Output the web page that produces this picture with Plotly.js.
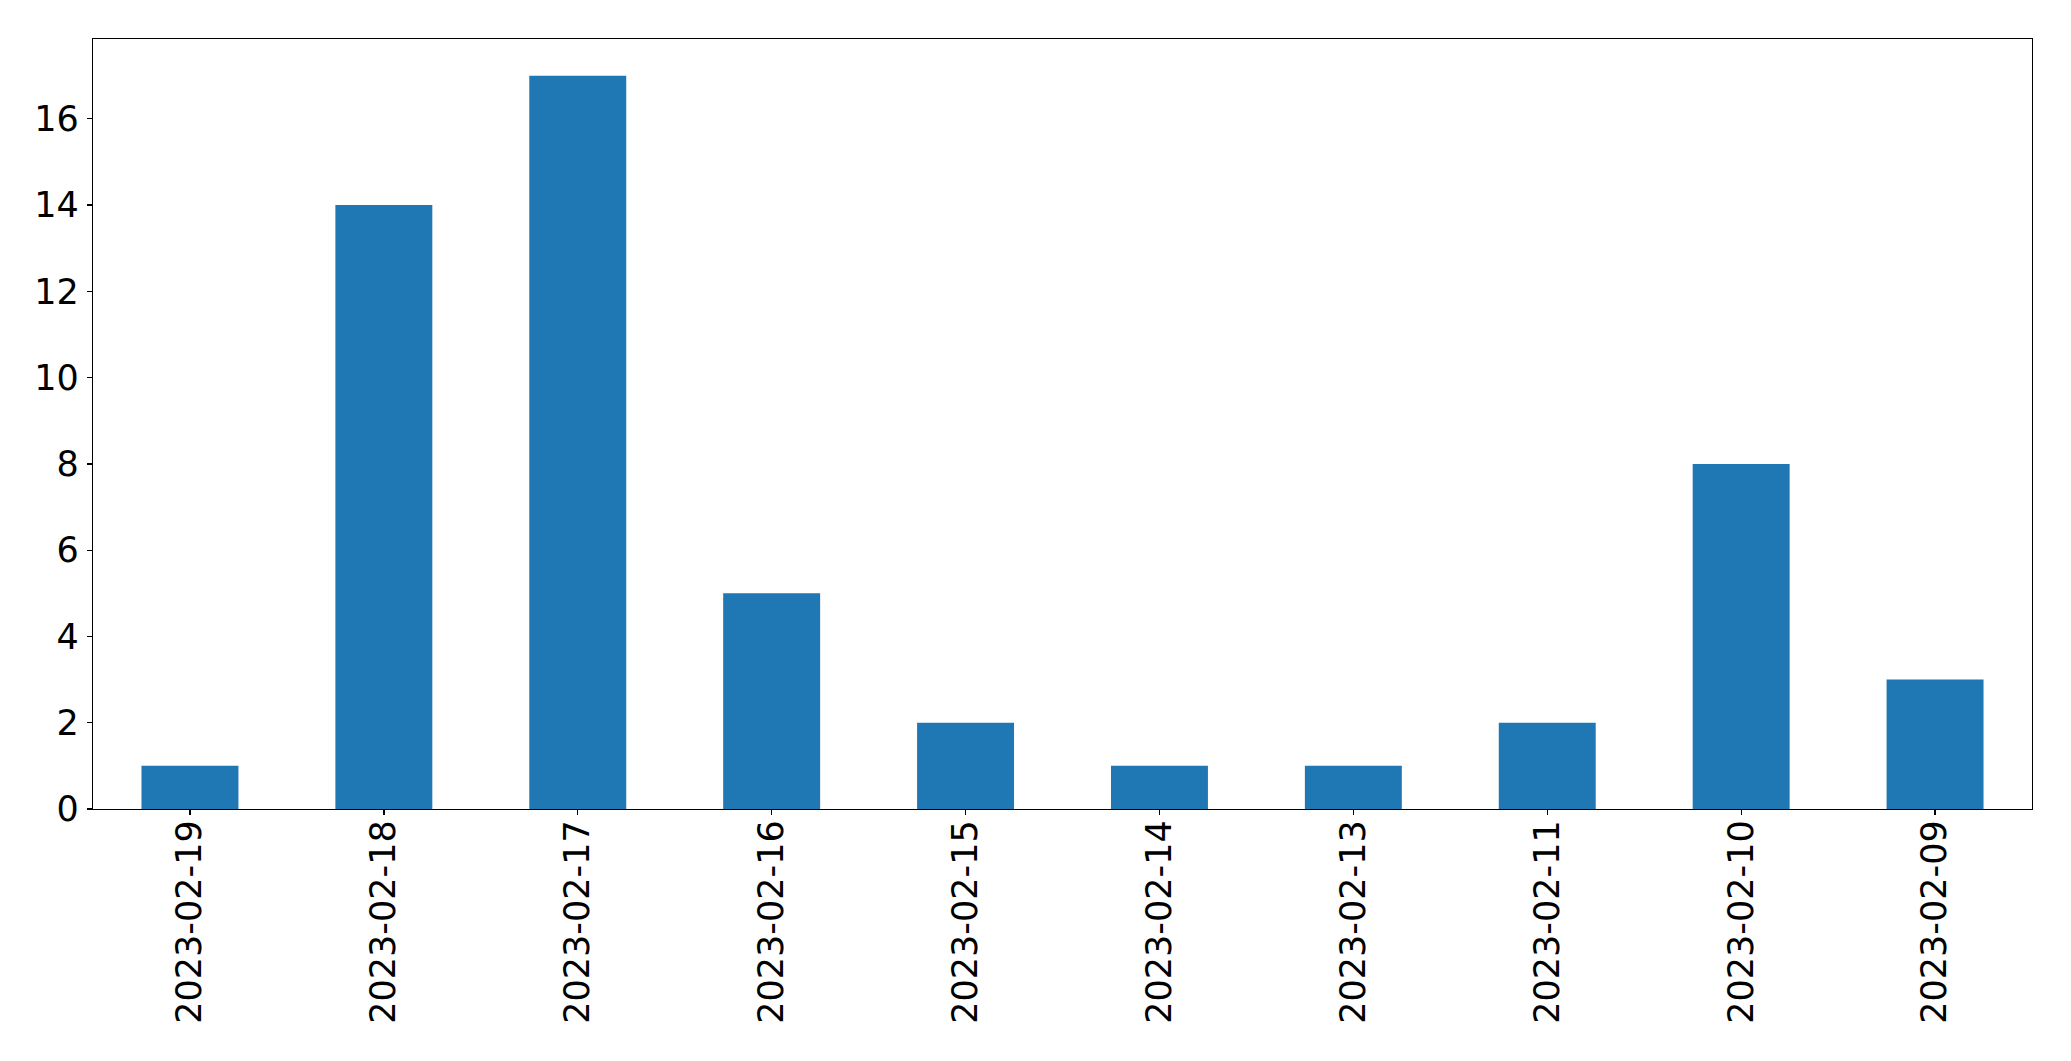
<!DOCTYPE html>
<html>
<head>
<meta charset="utf-8">
<script src="https://cdn.plot.ly/plotly-3.0.1.min.js"></script>
<style>html,body{margin:0;padding:0;background:#fff;}</style>
</head>
<body>
<div id="chart" style="width:2071px;height:1061px;"></div>
<script>
const dates = ["2023-02-19","2023-02-18","2023-02-17","2023-02-16","2023-02-15","2023-02-14","2023-02-13","2023-02-11","2023-02-10","2023-02-09"];
const counts = [1, 14, 17, 5, 2, 1, 1, 2, 8, 3];
const yTicks = [0, 2, 4, 6, 8, 10, 12, 14, 16];

const trace = {
  type: "bar",
  x: dates,
  y: counts,
  width: 0.5,
  marker: {color: "#1f77b4", line: {width: 0}},
  hoverinfo: "x+y"
};

const axisCommon = {
  showline: true, linecolor: "#000", linewidth: 1.3, mirror: true,
  ticks: "outside", ticklen: 5, tickwidth: 1.3, tickcolor: "#000",
  showgrid: false, zeroline: false,
  tickfont: {family: "DejaVu Sans", size: 35, color: "#000"}
};

const layout = {
  width: 2071, height: 1061,
  margin: {l: 93, r: 39, t: 39, b: 252, pad: 0},
  paper_bgcolor: "#fff", plot_bgcolor: "#fff",
  showlegend: false,
  xaxis: Object.assign({}, axisCommon, {
    type: "category", range: [-0.5, 9.5], tickangle: -90, automargin: false,
    ticklabelstandoff: -9
  }),
  yaxis: Object.assign({}, axisCommon, {
    range: [0, 17.85], tickvals: yTicks, ticktext: yTicks.map(String), automargin: false,
    ticklabelstandoff: 1
  })
};

Plotly.newPlot("chart", [trace], layout, {displayModeBar: false, staticPlot: true});
</script>
</body>
</html>
